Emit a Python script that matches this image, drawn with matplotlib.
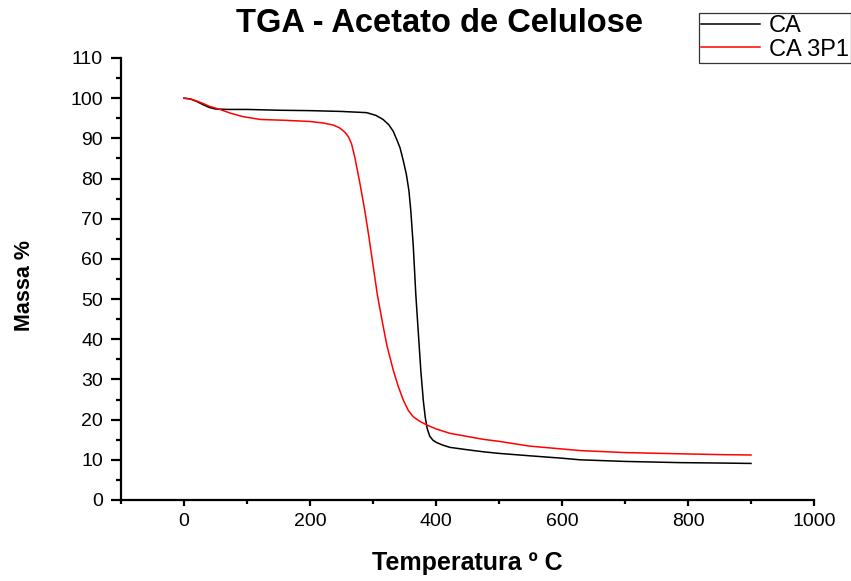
import matplotlib
matplotlib.use("Agg")
import matplotlib.pyplot as plt
from matplotlib.ticker import MultipleLocator

plt.rcParams['font.family'] = ['Liberation Sans', 'DejaVu Sans']

# Data
temp_ca = [0, 10, 20, 30, 40, 50, 70, 100, 150, 200, 250, 290, 305, 316, 325, 332, 338,
           343, 348, 353, 357, 360, 364, 368, 372, 376, 380, 383, 386, 390, 395, 401,
           410, 422, 450, 475, 500, 549, 600, 629, 700, 787, 850, 900]
mass_ca = [100, 99.8, 99.2, 98.4, 97.7, 97.3, 97.2, 97.2, 97.0, 96.9, 96.7, 96.4, 95.7,
           94.7, 93.4, 91.8, 89.6, 87.6, 84.5, 81, 77, 72, 63, 51, 41.5, 32, 24.5, 20.5,
           17.8, 15.9, 14.9, 14.3, 13.7, 13.1, 12.5, 12.0, 11.6, 11.0, 10.4, 10.0, 9.6,
           9.3, 9.2, 9.1]

temp_3p1 = [0, 10, 20, 30, 40, 57, 75, 94, 121, 160, 200, 222, 237, 247, 255, 261, 266,
            271, 279, 287, 293, 300, 307, 314, 322, 332, 340, 348, 356, 364, 374, 385,
            400, 422, 450, 475, 500, 549, 600, 629, 700, 787, 850, 900]
mass_3p1 = [100, 99.8, 99.3, 98.7, 98.0, 97.2, 96.2, 95.4, 94.7, 94.5, 94.2, 93.8, 93.3,
            92.6, 91.6, 90.4, 88.6, 85.4, 79, 72, 66, 58.5, 51, 45, 38.5, 32.4, 28.3,
            24.9, 22.3, 20.7, 19.6, 18.7, 17.7, 16.6, 15.8, 15.1, 14.6, 13.4, 12.7,
            12.3, 11.8, 11.5, 11.3, 11.2]

series_labels = ["CA", "CA 3P1"]
x_ticks = [0, 200, 400, 600, 800, 1000]
y_ticks = [0, 10, 20, 30, 40, 50, 60, 70, 80, 90, 100, 110]

fig = plt.figure(figsize=(8.51, 5.81), dpi=100)
ax = fig.add_axes([121 / 851, 1 - 500 / 581, 693 / 851, 442 / 581])

l1, = ax.plot(temp_ca, mass_ca, color='black', lw=1.1, label=series_labels[0])
l2, = ax.plot(temp_3p1, mass_3p1, color='red', lw=1.1, label=series_labels[1])

ax.set_xlim(-100, 1000)
ax.set_ylim(0, 110)
ax.set_xticks(x_ticks)
ax.set_yticks(y_ticks)
ax.xaxis.set_minor_locator(MultipleLocator(100))
ax.yaxis.set_minor_locator(MultipleLocator(5))
for s in ['top', 'right']:
    ax.spines[s].set_visible(False)
for s in ['left', 'bottom']:
    ax.spines[s].set_linewidth(1.6)
ax.tick_params(which='both', direction='out', width=1.6, labelsize=14)
ax.tick_params(axis='y', which='major', length=7, pad=6)
ax.tick_params(axis='y', which='minor', length=3.6)
ax.tick_params(axis='x', which='major', length=4.5, pad=5)
ax.tick_params(axis='x', which='minor', length=3)

ax.set_xlabel("Temperatura º C", fontsize=18, fontweight='bold')
ax.xaxis.label.set_va('baseline')
ax.xaxis.set_label_coords(0.5, -70 / 442)
ax.set_ylabel("Massa %", fontsize=15.5, fontweight='bold')
ax.yaxis.set_label_coords(-86 / 693, 214.5 / 442)

fig.text(440 / 851, 1 - 32 / 581, "TGA - Acetato de Celulose", fontsize=23.5,
         fontweight='bold', ha='center', va='baseline')

leg = fig.legend(handles=[l1, l2], loc='upper right', bbox_to_anchor=(1.0, 1 - 13 / 581),
                 fontsize=17, frameon=True, fancybox=False, edgecolor='black',
                 borderpad=0.1, handlelength=2.5, handletextpad=0.35, labelspacing=0.05,
                 borderaxespad=0.0)
leg.get_frame().set_linewidth(0.9)

fig.savefig("out.png", dpi=100)
